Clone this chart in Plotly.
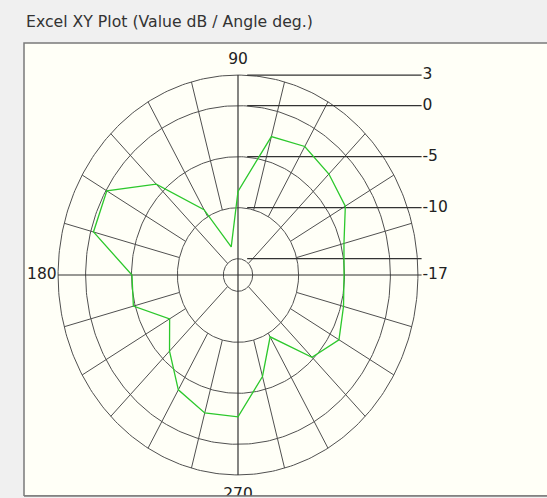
import numpy as np
import plotly.graph_objects as go

# ---------------- data ----------------
TITLE = "Excel XY Plot (Value dB / Angle deg.)"
ANGLES_DEG = [0, 15, 30, 45, 60, 75, 90, 105, 120, 135, 150, 165,
              180, 195, 210, 225, 240, 255, 270, 285, 300, 315, 330, 345]
VALUES_DB = [-5.05, -4.65, -3.1, -2.6, -2.05, -2.55, -8.4, -13.75, -9.2, -4.0, -0.1, -0.3,
             -5.05, -4.8, -8.0, -6.05, -3.6, -2.6, -2.7, -6.3, -9.6, -5.2, -3.9, -4.7]
RING_DB = [3, 0, -5, -10, -15]
RING_LABELS = ["3", "0", "-5", "-10", ""]
CENTER_LABEL = "-17"
ANGLE_LABELS = ["90", "180", "270"]
ANGLE_LABEL_POS = [90, 180, 270]
SPOKE_STEP = 15

# ---------------- geometry / style ----------------
W, H = 547, 498
CX, CY = 238.0, 275.0        # pixel centre of the polar grid
SX, SY = 9.18, 10.2          # pixels per dB unit (horizontal / vertical)
R0 = -16.6                   # dB value at the centre
LEADER_END = 20.0
LEADER_START = 1.0
GRID = "#505050"
AXIS = "#333333"
GREEN = "#2cc82c"
BG_OUT = "#f0f0f0"
BG_IN = "#fffff7"
FONT = "DejaVu Sans"
TXT = "#222222"
LABEL_OFFSETS = {90: 1.45, 270: 1.95}


def rad(v):
    return v - R0


R_OUT = rad(max(RING_DB))

fig = go.Figure()

# rings
t = np.linspace(0, 2 * np.pi, 361)
for v in RING_DB:
    r = rad(v)
    fig.add_trace(go.Scatter(x=r * np.cos(t), y=r * np.sin(t), mode="lines",
                             line=dict(color=GRID, width=1), hoverinfo="skip"))

# spokes
for a in range(0, 360, SPOKE_STEP):
    if a % 90 == 0:
        continue
    r_in = rad(-15) if a % 45 == 0 else rad(-10)
    th = np.deg2rad(a)
    fig.add_trace(go.Scatter(x=[r_in * np.cos(th), R_OUT * np.cos(th)],
                             y=[r_in * np.sin(th), R_OUT * np.sin(th)],
                             mode="lines", line=dict(color=GRID, width=1), hoverinfo="skip"))

# main axes
fig.add_trace(go.Scatter(x=[-R_OUT, LEADER_END], y=[0, 0], mode="lines",
                         line=dict(color=AXIS, width=1.2), hoverinfo="skip"))
fig.add_trace(go.Scatter(x=[0, 0], y=[-R_OUT, R_OUT], mode="lines",
                         line=dict(color=AXIS, width=1.2), hoverinfo="skip"))

# leader lines for ring values
for v in RING_DB:
    fig.add_trace(go.Scatter(x=[LEADER_START, LEADER_END], y=[rad(v), rad(v)], mode="lines",
                             line=dict(color=AXIS, width=1.2), hoverinfo="skip"))

# data trace (closed)
ang = np.deg2rad(np.array(ANGLES_DEG + [ANGLES_DEG[0]], dtype=float))
rv = np.array(VALUES_DB + [VALUES_DB[0]]) - R0
fig.add_trace(go.Scatter(x=rv * np.cos(ang), y=rv * np.sin(ang), mode="lines",
                         line=dict(color=GREEN, width=1.3), hoverinfo="skip"))

# ring labels
fig.add_trace(go.Scatter(
    x=[LEADER_END + 0.1] * (len(RING_DB) + 1),
    y=[rad(v) for v in RING_DB] + [0],
    text=RING_LABELS + [CENTER_LABEL], mode="text", textposition="middle right",
    textfont=dict(family=FONT, size=15.5, color=TXT), cliponaxis=False, hoverinfo="skip"))

# angle labels
lab_x, lab_y, lab_pos = [], [], []
for txt, a in zip(ANGLE_LABELS, ANGLE_LABEL_POS):
    th = np.deg2rad(a)
    if a == 180:
        lab_x.append(-R_OUT - 0.15); lab_y.append(0); lab_pos.append("middle left")
    else:
        off = LABEL_OFFSETS.get(a, 1.6)
        lab_x.append((R_OUT + off) * np.cos(th)); lab_y.append((R_OUT + off) * np.sin(th))
        lab_pos.append("middle center")
fig.add_trace(go.Scatter(x=lab_x, y=lab_y, text=ANGLE_LABELS, mode="text",
                         textposition=lab_pos,
                         textfont=dict(family=FONT, size=15.5, color=TXT),
                         cliponaxis=False, hoverinfo="skip"))

# frame
FX0, FY0, FY1 = 24, 43, 496


def px(x):
    return x / W


def py(y):
    return 1 - y / H


shapes = [
    dict(type="rect", xref="paper", yref="paper", x0=px(FX0), x1=1.05, y0=py(FY1), y1=py(FY0),
         fillcolor=BG_IN, line=dict(color="#7a7a7a", width=1.5), layer="below"),
    dict(type="rect", xref="paper", yref="paper", x0=0, x1=1, y0=0, y1=py(FY1),
         fillcolor=BG_OUT, line=dict(width=0), layer="above"),
    dict(type="line", xref="paper", yref="paper", x0=px(FX0), x1=1.05, y0=py(FY1), y1=py(FY1),
         line=dict(color="#7a7a7a", width=1.5), layer="above"),
]

fig.update_layout(
    width=W, height=H, margin=dict(l=0, r=0, t=0, b=0),
    paper_bgcolor=BG_OUT, plot_bgcolor="rgba(0,0,0,0)",
    showlegend=False, shapes=shapes,
    xaxis=dict(range=[-CX / SX, (W - CX) / SX], visible=False, fixedrange=True),
    yaxis=dict(range=[-(H - CY) / SY, CY / SY], visible=False, fixedrange=True),
    annotations=[dict(text=TITLE, xref="paper", yref="paper", x=px(FX0), y=py(22),
                      xanchor="left", yanchor="middle", showarrow=False,
                      font=dict(family=FONT, size=15.7, color="#333333"))],
)

fig.write_html(
    "out.html",
    config={"displayModeBar": False},
    post_script="document.body.style.margin='0';document.body.style.background='#f0f0f0';",
)
